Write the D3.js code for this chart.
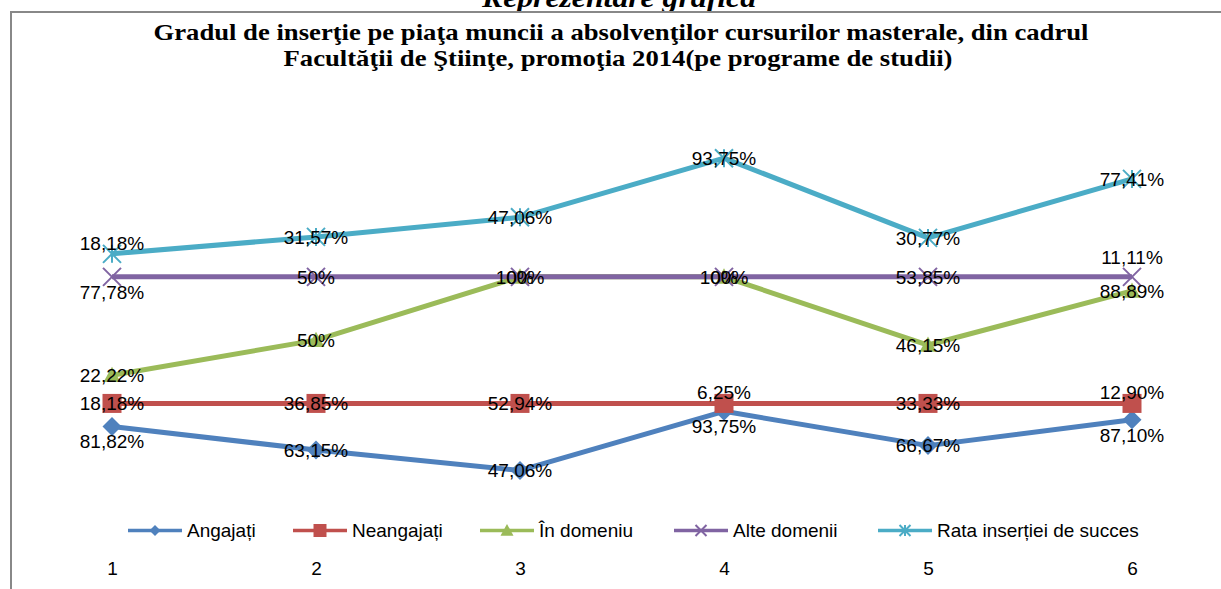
<!DOCTYPE html>
<html>
<head>
<meta charset="utf-8">
<script src="https://cdn.jsdelivr.net/npm/d3@7"></script>
<style>
  body { margin: 0; background: #fff; }
  svg { display: block; }
</style>
</head>
<body>
<div class="chart"></div>
<script>
var svgWidth = 1221;
var svgHeight = 589;

// categories (program de studii) and the five series, values in %
var categories = [1, 2, 3, 4, 5, 6];
var angajati = [81.82, 63.15, 47.06, 93.75, 66.67, 87.10];
var neangajati = [18.18, 36.85, 52.94, 6.25, 33.33, 12.90];
var inDomeniu = [22.22, 50, 100, 100, 46.15, 88.89];
var alteDomenii = [77.78, 50, 0, 0, 53.85, 11.11];
var rataSucces = [18.18, 31.57, 47.06, 93.75, 30.77, 77.41];

var seriesNames = ["Angajați", "Neangajați", "În domeniu", "Alte domenii", "Rata inserției de succes"];
var seriesColors = ["#4F81BD", "#C0504D", "#9BBB59", "#8064A2", "#4BACC6"];
var seriesMarkers = ["diamond", "square", "triangle", "x", "star"];

// where each data label sits: c = on point, a = above, A = higher above, b = below
var labelPlacement = [
  ["b", "c", "c", "b", "c", "b"],
  ["c", "c", "c", "a", "c", "a"],
  ["c", "c", "c", "c", "c", "c"],
  ["b", "c", "c", "c", "c", "A"],
  ["a", "c", "c", "c", "c", "c"]
];
var labelOffset = { c: 0, a: -11, A: -20, b: 15 };

var margin = { top: 87, bottom: 59 };

var svg = d3.select(".chart")
  .append("svg")
  .attr("width", svgWidth)
  .attr("height", svgHeight);

// page heading, cut at the top
svg.append("text")
  .attr("x", 619)
  .attr("y", 7)
  .attr("text-anchor", "middle")
  .attr("textLength", 274)
  .attr("lengthAdjust", "spacingAndGlyphs")
  .style("font-family", "'Liberation Serif', 'Times New Roman', serif")
  .style("font-weight", "bold")
  .style("font-style", "italic")
  .style("font-size", "28px")
  .text("Reprezentare grafică");

// chart frame
svg.append("rect")
  .attr("x", 11)
  .attr("y", 12)
  .attr("width", 1300)
  .attr("height", 700)
  .attr("fill", "#fff")
  .attr("stroke", "#888")
  .attr("stroke-width", 2);

var titleLines = [
  "Gradul de inserţie pe piaţa muncii a absolvenţilor cursurilor masterale, din cadrul",
  "Facultăţii de Ştiinţe, promoţia 2014(pe programe de studii)"
];
var titleWidths = [935, 669];
var titleCenters = [621, 618];
svg.append("g").selectAll("text")
  .data(titleLines)
  .enter()
  .append("text")
  .attr("x", (d, i) => titleCenters[i])
  .attr("y", (d, i) => 39.5 + i * 26)
  .attr("text-anchor", "middle")
  .attr("textLength", (d, i) => titleWidths[i])
  .attr("lengthAdjust", "spacingAndGlyphs")
  .style("font-family", "'Liberation Serif', 'Times New Roman', serif")
  .style("font-weight", "bold")
  .style("font-size", "23px")
  .text(d => d);

// stacked data
var seriesArrays = [angajati, neangajati, inDomeniu, alteDomenii, rataSucces];
var keys = seriesNames;
var rows = categories.map(function(c, i) {
  var row = { cat: c };
  keys.forEach(function(k, j) { row[k] = seriesArrays[j][i]; });
  return row;
});
var stacked = d3.stack().keys(keys)(rows);

var xScale = d3.scalePoint()
  .domain(categories)
  .range([112, 1132]);

var yScale = d3.scaleLinear()
  .domain([0, 350])
  .range([svgHeight - margin.bottom, margin.top]);

var fmt = function(v) {
  return (Number.isInteger(v) ? v : v.toFixed(2).replace(".", ",")) + "%";
};

function markerPath(type, r) {
  if (type === "diamond") return `M0,${-r}L${r},0L0,${r}L${-r},0Z`;
  if (type === "square") return `M${-r},${-r}H${r}V${r}H${-r}Z`;
  if (type === "triangle") return `M0,${-r}L${r},${r * 0.8}L${-r},${r * 0.8}Z`;
  if (type === "x") return `M${-r},${-r}L${r},${r}M${-r},${r}L${r},${-r}`;
  return `M${-r},${-r}L${r},${r}M${-r},${r}L${r},${-r}M0,${-r}V${r}`;
}
var markerSize = { diamond: 9.5, square: 9.5, triangle: 8.5, x: 9, star: 9 };
var legendSize = { diamond: 5.5, square: 6.5, triangle: 6.5, x: 5.5, star: 5.5 };

var line = d3.line()
  .x(d => xScale(d.data.cat))
  .y(d => yScale(d[1]));

var chartGroup = svg.append("g");

stacked.forEach(function(s, j) {
  var type = seriesMarkers[j];
  var filled = type !== "x" && type !== "star";
  var g = chartGroup.append("g");

  g.append("path")
    .datum(s)
    .attr("d", line)
    .attr("fill", "none")
    .attr("stroke", seriesColors[j])
    .attr("stroke-width", 5)
    .attr("stroke-linejoin", "round");

  g.selectAll(".marker")
    .data(s)
    .enter()
    .append("path")
    .attr("transform", d => `translate(${xScale(d.data.cat)}, ${yScale(d[1])})`)
    .attr("d", markerPath(type, markerSize[type]))
    .attr("fill", filled ? seriesColors[j] : "none")
    .attr("stroke", seriesColors[j])
    .attr("stroke-width", filled ? 0 : 2);
});

// data labels on top of all lines
var labelGroup = svg.append("g")
  .style("font-family", "'Liberation Sans', Arial, sans-serif")
  .style("font-size", "19px")
  .attr("fill", "#000");

stacked.forEach(function(s, j) {
  labelGroup.selectAll(".lbl" + j)
    .data(s)
    .enter()
    .append("text")
    .attr("x", d => xScale(d.data.cat))
    .attr("y", (d, i) => yScale(d[1]) + labelOffset[labelPlacement[j][i]])
    .attr("dy", "0.36em")
    .attr("text-anchor", "middle")
    .text(d => fmt(d.data[s.key]));
});

// legend, items start at fixed x positions
var legendX = [128, 293, 480, 674, 878];
var legend = svg.append("g")
  .attr("transform", "translate(0, 530.5)")
  .style("font-family", "'Liberation Sans', Arial, sans-serif")
  .style("font-size", "19px");

seriesNames.forEach(function(name, j) {
  var type = seriesMarkers[j];
  var filled = type !== "x" && type !== "star";
  var item = legend.append("g").attr("transform", `translate(${legendX[j]}, 0)`);
  item.append("line")
    .attr("x1", 0).attr("x2", 54)
    .attr("stroke", seriesColors[j])
    .attr("stroke-width", 3.5);
  item.append("path")
    .attr("transform", "translate(27, 0)")
    .attr("d", markerPath(type, legendSize[type]))
    .attr("fill", filled ? seriesColors[j] : "none")
    .attr("stroke", seriesColors[j])
    .attr("stroke-width", filled ? 0 : 2);
  item.append("text")
    .attr("x", 59)
    .attr("dy", "0.36em")
    .text(name);
});

// category axis, no line and no ticks
var xAxis = svg.append("g")
  .attr("transform", "translate(0, 561)")
  .call(d3.axisBottom(xScale).tickSize(0).tickPadding(0));
xAxis.select(".domain").remove();
xAxis.selectAll("text")
  .style("font-family", "'Liberation Sans', Arial, sans-serif")
  .style("font-size", "19px")
  .attr("fill", "#000");
</script>
</body>
</html>
